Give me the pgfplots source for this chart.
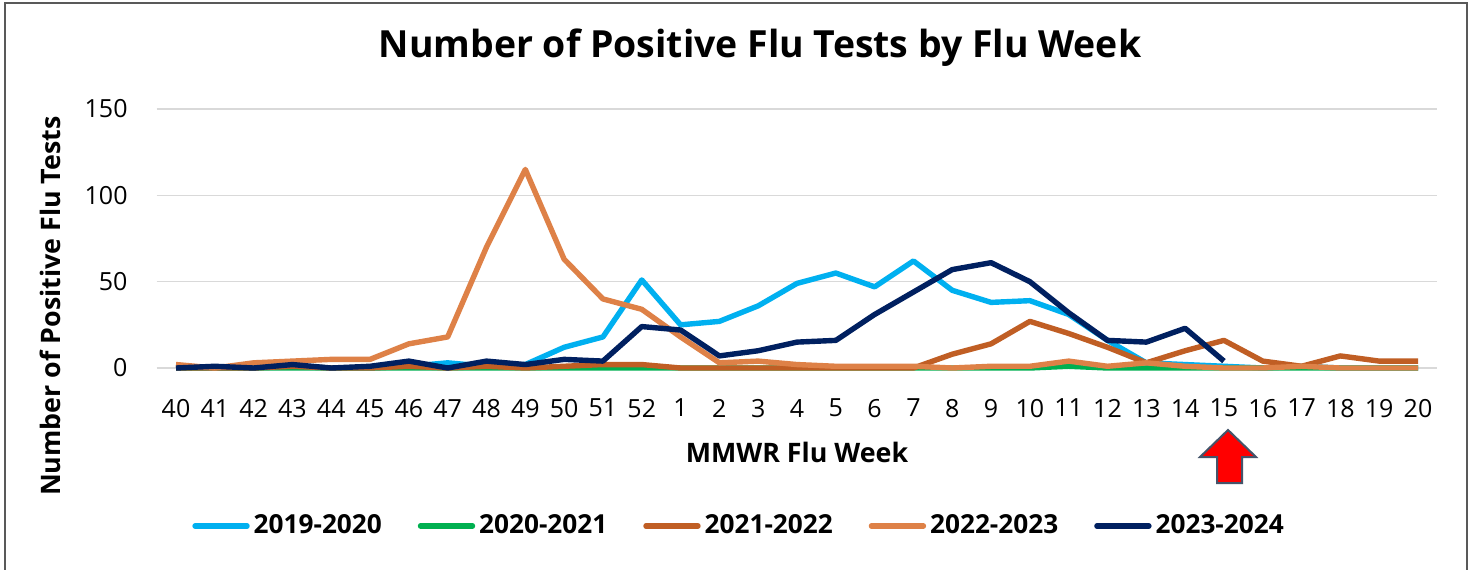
\documentclass[border=0pt]{standalone}
\usepackage{fontspec}
\setmainfont{Open Sans}
\usepackage{pgfplots}
\pgfplotsset{compat=1.18}
\definecolor{s1920}{HTML}{00B0F0}
\definecolor{s2021}{HTML}{00B050}
\definecolor{s2122}{HTML}{C05E24}
\definecolor{s2223}{HTML}{DE8147}
\definecolor{s2324}{HTML}{002060}
\definecolor{gridgray}{HTML}{D9D9D9}
\definecolor{framegray}{HTML}{595959}
\definecolor{arrowedge}{HTML}{44546A}

% x = week index: 0..12 -> weeks 40..52, 13..32 -> weeks 1..20
\pgfplotstableread{
i  a   b  c   d    e
0  0   0  0   2    0
1  0   0  0   0    1
2  0   0  0   3    0
3  1   0  1   4    2
4  0   0  0   5    0
5  0   0  0   5    1
6  1   0  1   14   4
7  3   0  0   18   0
8  1   0  1   70   4
9  2   0  0   115  2
10 12  0  1   63   5
11 18  0  2   40   4
12 51  0  2   34   24
13 25  0  0   18   22
14 27  0  0   3    7
15 36  0  0   4    10
16 49  0  0   2    15
17 55  0  0   1    16
18 47  0  0   1    31
19 62  0  0   1    44
20 45  0  8   0    57
21 38  0  14  1    61
22 39  0  27  1    50
23 31  1  20  4    32
24 16  0  12  1    16
25 3   0  3   3    15
26 2   0  10  1    23
27 1   0  16  0    4
28 0   0  4   0    nan
29 1   0  1   1    nan
30 0   0  7   0    nan
31 0   0  4   0    nan
32 0   0  4   0    nan
}\flu

\begin{document}
\begin{tikzpicture}
\useasboundingbox (0,0) rectangle (738pt,284.5pt);
\fill[white] (0,0) rectangle (738pt,284.5pt);
\draw[framegray,line width=1pt] (2.5pt,-5pt) rectangle (733.5pt,283pt);

\begin{axis}[
  at={(78.3pt,100.5pt)}, anchor=south west,
  scale only axis, width=640.4pt, height=129.5pt,
  xmin=-0.5, xmax=32.5, ymin=0, ymax=150,
  xtick={0,...,32},
  xticklabels={40,41,42,43,44,45,46,47,48,49,50,51,52,1,2,3,4,5,6,7,8,9,10,11,12,13,14,15,16,17,18,19,20},
  ytick={0,50,100,150},
  ymajorgrids, grid style={gridgray,line width=0.8pt},
  axis line style={draw=none},
  major tick length=0pt,
  tick label style={font=\fontsize{12.5}{15}\selectfont,
    /pgf/number format/assume math mode=true},
  xticklabel style={yshift=-12pt},
  yticklabel style={xshift=-11pt},
  clip=false,
  legend style={at={(0.4555,-0.61)},anchor=center,draw=none,fill=none,
    legend columns=5,font=\fontsize{13.1}{15}\selectfont\bfseries,
    /tikz/every even column/.append style={column sep=16pt},
    legend cell align=left},
  legend image code/.code={\draw[#1,line cap=round] (0pt,0pt) -- (26pt,0pt);},
  every axis plot/.append style={line width=2.7pt,line join=round,mark=none},
]
\addplot[s1920] table[x=i,y=a]{\flu};
\addlegendentry{2019-2020}
\addplot[s2021] table[x=i,y=b]{\flu};
\addlegendentry{2020-2021}
\addplot[s2122] table[x=i,y=c]{\flu};
\addlegendentry{2021-2022}
\addplot[s2223] table[x=i,y=d]{\flu};
\addlegendentry{2022-2023}
\addplot[s2324,unbounded coords=discard] table[x=i,y=e]{\flu};
\addlegendentry{2023-2024}
\end{axis}

\node[font=\fontsize{18.7}{22}\selectfont\bfseries] at (380pt,260.5pt)
  {Number of Positive Flu Tests by Flu Week};
\node[font=\fontsize{13.4}{16}\selectfont\bfseries,rotate=90] at (25pt,131.5pt)
  {Number of Positive Flu Tests};
\node[font=\fontsize{13.4}{16}\selectfont\bfseries] at (398.5pt,58.5pt)
  {MMWR Flu Week};

\draw[arrowedge,fill=red,line width=1pt,line join=miter]
  (614pt,69.5pt) -- (628pt,56pt) -- (621pt,56pt) -- (621pt,43pt)
  -- (608.5pt,43pt) -- (608.5pt,56pt) -- (600pt,56pt) -- cycle;
\end{tikzpicture}
\end{document}
